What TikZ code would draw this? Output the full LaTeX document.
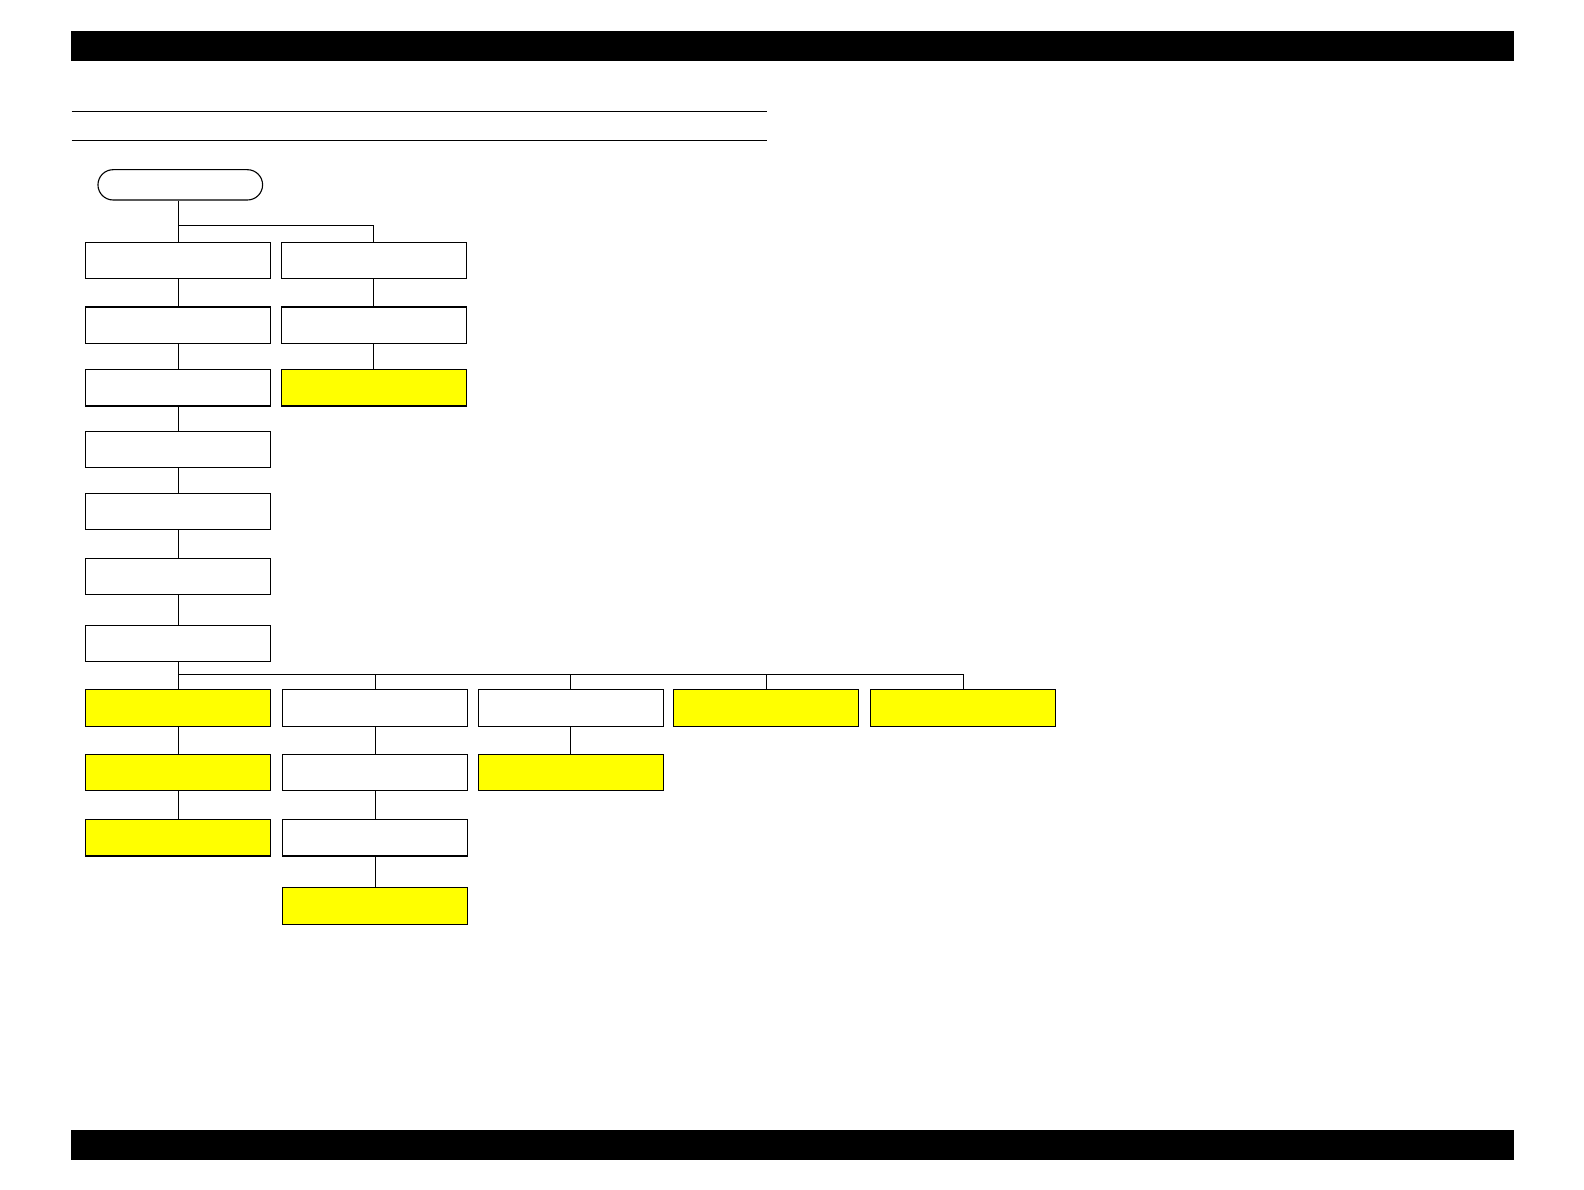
\documentclass[tikz,border=0pt]{standalone}
\usepackage{xcolor}
\usepackage{tikz}
\definecolor{hilite}{RGB}{255,255,0}
\tikzset{
  stepbox/.style={draw, rectangle, line width=1.1bp, minimum width=183bp, minimum height=36bp, inner sep=0pt},
  hibox/.style={stepbox, fill=hilite},
  termbox/.style={draw, rectangle, rounded corners=15bp, line width=1.1bp, minimum width=163bp, minimum height=30bp, inner sep=0pt},
  link/.style={line width=1.1bp}
}
\begin{document}
\begin{tikzpicture}[x=1bp,y=-1bp]
\useasboundingbox (0,0) rectangle (1568.3,1178.2);
% page frame
\fill[black] (70,31) rectangle (1499,60);
\fill[black] (70,1119) rectangle (1499,1148);
\draw[line width=1.1bp] (71,110) -- (759,110);
\draw[line width=1.1bp] (71,139) -- (759,139);

% start
\node[termbox] (start) at (178.5,183) {};

% left column
\node[stepbox] (a1) at (176.5,258) {};
\node[stepbox] (a2) at (176.5,322) {};
\node[stepbox] (a3) at (176.5,384) {};
\node[stepbox] (a4) at (176.5,445) {};
\node[stepbox] (a5) at (176.5,506.5) {};
\node[stepbox] (a6) at (176.5,571) {};
\node[stepbox] (a7) at (176.5,637) {};
\node[hibox] (a8) at (176.5,701) {};
\node[hibox] (a9) at (176.5,765) {};
\node[hibox] (a10) at (176.5,829.5) {};

% upper right branch
\node[stepbox] (b1) at (370,258) {};
\node[stepbox] (b2) at (370,322) {};
\node[hibox] (b3) at (370,384) {};

% lower branches
\node[stepbox] (c8) at (371.5,701) {};
\node[stepbox] (c9) at (371.5,765) {};
\node[stepbox] (c10) at (371.5,829.5) {};
\node[hibox] (c11) at (371.5,897) {};
\node[stepbox] (d8) at (565,701) {};
\node[hibox] (d9) at (565,765) {};
\node[hibox] (e8) at (758.5,701) {};
\node[hibox] (f8) at (953.5,701) {};

% connectors
\coordinate (fork) at (176.5,223);
\coordinate (bus) at (176.5,668);
\draw[link] (a1.north |- start.south) -- (a1.north);
\draw[link] (fork) -| (b1.north);
\foreach \u/\v in {a1/a2,a2/a3,a3/a4,a4/a5,a5/a6,a6/a7,a7/a8,a8/a9,a9/a10,b1/b2,b2/b3,c8/c9,c9/c10,c10/c11,d8/d9}
  \draw[link] (\u.south) -- (\v.north);
\foreach \n in {c8,d8,e8,f8}
  \draw[link] (bus) -| (\n.north);
\end{tikzpicture}
\end{document}
